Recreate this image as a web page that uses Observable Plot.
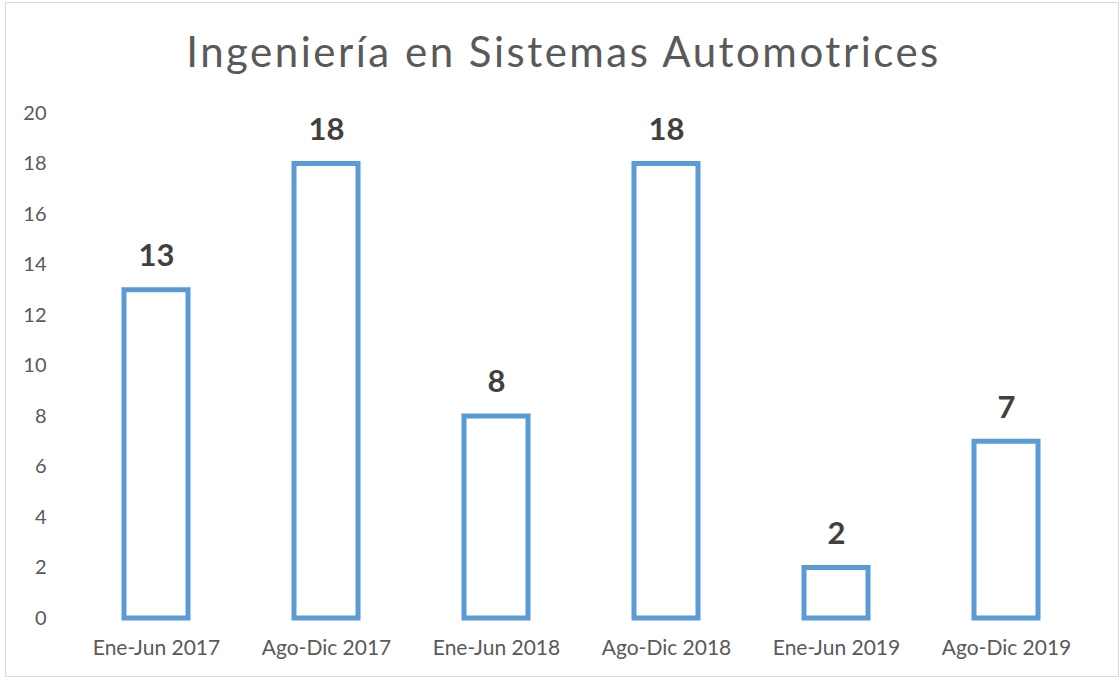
<!DOCTYPE html>
<html>
<head>
<meta charset="utf-8">
<script src="https://cdn.jsdelivr.net/npm/d3@7"></script>
<script src="https://cdn.jsdelivr.net/npm/@observablehq/plot@0.6"></script>
<style>
  html, body { margin: 0; padding: 0; background: #fff; overflow: hidden; }
  #wrap { position: relative; width: 1120px; height: 681px; font-family: Lato, "Open Sans", sans-serif; }
  #border { position: absolute; left: 5px; top: 2px; width: 1114px; height: 675px; border: 1.5px solid #d9d9d9; box-sizing: border-box; }
  #title { position: absolute; left: 0; top: 30px; width: 1127px; text-align: center; font-size: 42px; line-height: 42px; letter-spacing: 2.5px; color: #595959; white-space: nowrap; }
  #chart { position: absolute; left: 0; top: 0; }
</style>
</head>
<body>
<div id="wrap">
  <div id="border"></div>
  <div id="title">Ingeniería en Sistemas Automotrices</div>
  <div id="chart"></div>
</div>
<script>
const categories = ["Ene-Jun 2017", "Ago-Dic 2017", "Ene-Jun 2018", "Ago-Dic 2018", "Ene-Jun 2019", "Ago-Dic 2019"];
const values = [13, 18, 8, 18, 2, 7];
const yTicks = [0, 2, 4, 6, 8, 10, 12, 14, 16, 18, 20];

const data = categories.map((c, i) => ({category: c, value: values[i]}));

const chart = Plot.plot({
  width: 1120,
  height: 681,
  marginTop: 113,
  marginBottom: 63,
  marginLeft: 69,
  marginRight: 28,
  style: {fontFamily: "Lato, 'Open Sans', sans-serif", background: "transparent", color: "#595959"},
  x: {domain: categories, padding: 0, label: null},
  y: {domain: [0, 20], label: null},
  marks: [
    Plot.axisY({ticks: yTicks, tickSize: 0, tickPadding: 23, fontSize: 20, fill: "#595959", label: null}),
    Plot.axisX({tickSize: 0, tickPadding: 22, fontSize: 21, fill: "#595959", label: null}),
    Plot.barY(data, {x: "category", y: "value", fill: "white", stroke: "#5B9BD5", strokeWidth: 5, insetLeft: 53, insetRight: 53}),
    Plot.text(data, {x: "category", y: "value", text: d => String(d.value), dy: -34, fontSize: 31, fontWeight: "bold", fill: "#404040"})
  ]
});
document.getElementById("chart").appendChild(chart);
</script>
</body>
</html>
